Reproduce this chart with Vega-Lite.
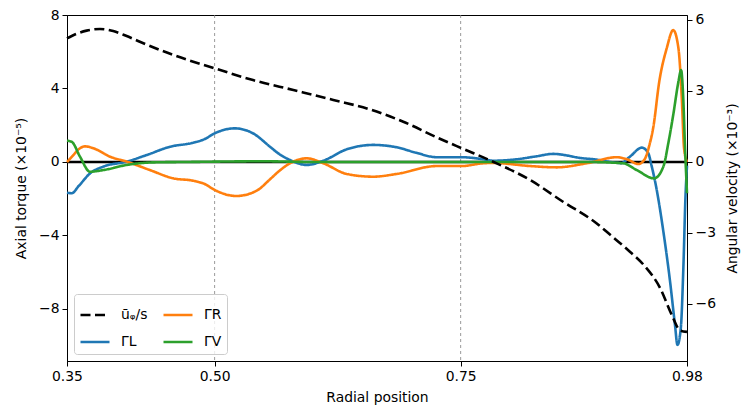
{
  "$schema": "https://vega.github.io/schema/vega-lite/v6.json",
  "width": 620,
  "height": 346,
  "autosize": {"type": "none"},
  "padding": {"left": 67, "top": 15, "right": 67, "bottom": 53},
  "config": {
    "font": "DejaVu Sans",
    "view": {"stroke": "black", "strokeWidth": 1},
    "axis": {"grid": false, "domainColor": "black", "tickColor": "black", "labelColor": "black", "titleColor": "black", "labelFontSize": 13.9, "titleFontSize": 13.9, "titleFontWeight": "normal", "tickSize": 5, "labelPadding": 3, "labelFlush": false, "labelFont": "DejaVu Sans", "titleFont": "DejaVu Sans"},
    "legend": {"labelFontSize": 13.9, "labelFont": "DejaVu Sans", "labelColor": "black"}
  },
  "datasets": {
    "torque": [
      {"x": 0.35, "series": "ΓL", "v": -1.67}, {"x": 0.3548, "series": "ΓL", "v": -1.7}, {"x": 0.362, "series": "ΓL", "v": -1.3}, {"x": 0.3734, "series": "ΓL", "v": -0.62}, {"x": 0.3869, "series": "ΓL", "v": -0.25}, {"x": 0.4107, "series": "ΓL", "v": 0.02}, {"x": 0.431, "series": "ΓL", "v": 0.38}, {"x": 0.4547, "series": "ΓL", "v": 0.83}, {"x": 0.4783, "series": "ΓL", "v": 1.05}, {"x": 0.49, "series": "ΓL", "v": 1.25}, {"x": 0.5, "series": "ΓL", "v": 1.56}, {"x": 0.5207, "series": "ΓL", "v": 1.83}, {"x": 0.539, "series": "ΓL", "v": 1.56}, {"x": 0.5563, "series": "ΓL", "v": 0.83}, {"x": 0.5647, "series": "ΓL", "v": 0.47}, {"x": 0.5766, "series": "ΓL", "v": 0.11}, {"x": 0.5936, "series": "ΓL", "v": -0.16}, {"x": 0.6105, "series": "ΓL", "v": 0.07}, {"x": 0.6342, "series": "ΓL", "v": 0.69}, {"x": 0.6613, "series": "ΓL", "v": 0.93}, {"x": 0.685, "series": "ΓL", "v": 0.8}, {"x": 0.705, "series": "ΓL", "v": 0.5}, {"x": 0.7257, "series": "ΓL", "v": 0.26}, {"x": 0.751, "series": "ΓL", "v": 0.26}, {"x": 0.773, "series": "ΓL", "v": 0.15}, {"x": 0.783, "series": "ΓL", "v": 0.07}, {"x": 0.807, "series": "ΓL", "v": 0.15}, {"x": 0.826, "series": "ΓL", "v": 0.3}, {"x": 0.844, "series": "ΓL", "v": 0.44}, {"x": 0.8747, "series": "ΓL", "v": 0.2}, {"x": 0.885, "series": "ΓL", "v": 0.15}, {"x": 0.9086, "series": "ΓL", "v": -0.04}, {"x": 0.913, "series": "ΓL", "v": -0.06}, {"x": 0.922, "series": "ΓL", "v": 0.29}, {"x": 0.934, "series": "ΓL", "v": 0.78}, {"x": 0.9405, "series": "ΓL", "v": 0.5}, {"x": 0.944, "series": "ΓL", "v": -0.2}, {"x": 0.949, "series": "ΓL", "v": -1.45}, {"x": 0.956, "series": "ΓL", "v": -3.79}, {"x": 0.9628, "series": "ΓL", "v": -6.51}, {"x": 0.9678, "series": "ΓL", "v": -8.87}, {"x": 0.9703, "series": "ΓL", "v": -9.95}, {"x": 0.9737, "series": "ΓL", "v": -9.05}, {"x": 0.9764, "series": "ΓL", "v": -5.6}, {"x": 0.9784, "series": "ΓL", "v": -1.96}, {"x": 0.98, "series": "ΓL", "v": -0.2},
      {"x": 0.35, "series": "ΓR", "v": 0.0}, {"x": 0.356, "series": "ΓR", "v": 0.35}, {"x": 0.3625, "series": "ΓR", "v": 0.72}, {"x": 0.3683, "series": "ΓR", "v": 0.85}, {"x": 0.3767, "series": "ΓR", "v": 0.75}, {"x": 0.3937, "series": "ΓR", "v": 0.29}, {"x": 0.4107, "series": "ΓR", "v": 0.02}, {"x": 0.4343, "series": "ΓR", "v": -0.44}, {"x": 0.458, "series": "ΓR", "v": -0.89}, {"x": 0.4783, "series": "ΓR", "v": -1.02}, {"x": 0.49, "series": "ΓR", "v": -1.2}, {"x": 0.5, "series": "ΓR", "v": -1.52}, {"x": 0.522, "series": "ΓR", "v": -1.85}, {"x": 0.5428, "series": "ΓR", "v": -1.56}, {"x": 0.5563, "series": "ΓR", "v": -0.94}, {"x": 0.5647, "series": "ΓR", "v": -0.53}, {"x": 0.5766, "series": "ΓR", "v": -0.07}, {"x": 0.5936, "series": "ΓR", "v": 0.2}, {"x": 0.6105, "series": "ΓR", "v": -0.07}, {"x": 0.6342, "series": "ΓR", "v": -0.65}, {"x": 0.6613, "series": "ΓR", "v": -0.8}, {"x": 0.685, "series": "ΓR", "v": -0.65}, {"x": 0.7257, "series": "ΓR", "v": -0.22}, {"x": 0.751, "series": "ΓR", "v": -0.22}, {"x": 0.773, "series": "ΓR", "v": -0.07}, {"x": 0.783, "series": "ΓR", "v": -0.05}, {"x": 0.8205, "series": "ΓR", "v": -0.22}, {"x": 0.8475, "series": "ΓR", "v": -0.29}, {"x": 0.878, "series": "ΓR", "v": -0.07}, {"x": 0.9086, "series": "ΓR", "v": 0.26}, {"x": 0.919, "series": "ΓR", "v": 0.15}, {"x": 0.9305, "series": "ΓR", "v": -0.11}, {"x": 0.937, "series": "ΓR", "v": 0.15}, {"x": 0.9417, "series": "ΓR", "v": 0.9}, {"x": 0.9458, "series": "ΓR", "v": 1.9}, {"x": 0.9518, "series": "ΓR", "v": 4.37}, {"x": 0.9594, "series": "ΓR", "v": 6.19}, {"x": 0.966, "series": "ΓR", "v": 7.18}, {"x": 0.9713, "series": "ΓR", "v": 6.19}, {"x": 0.9747, "series": "ΓR", "v": 3.47}, {"x": 0.977, "series": "ΓR", "v": 0.75}, {"x": 0.98, "series": "ΓR", "v": 0.0},
      {"x": 0.35, "series": "ΓV", "v": 1.16}, {"x": 0.3548, "series": "ΓV", "v": 1.1}, {"x": 0.3632, "series": "ΓV", "v": 0.29}, {"x": 0.3734, "series": "ΓV", "v": -0.53}, {"x": 0.3869, "series": "ΓV", "v": -0.44}, {"x": 0.4107, "series": "ΓV", "v": -0.16}, {"x": 0.4377, "series": "ΓV", "v": -0.02}, {"x": 0.47, "series": "ΓV", "v": 0.0}, {"x": 0.55, "series": "ΓV", "v": 0.04}, {"x": 0.6, "series": "ΓV", "v": 0.0}, {"x": 0.7, "series": "ΓV", "v": 0.0}, {"x": 0.8, "series": "ΓV", "v": 0.0}, {"x": 0.88, "series": "ΓV", "v": 0.0}, {"x": 0.915, "series": "ΓV", "v": -0.07}, {"x": 0.929, "series": "ΓV", "v": -0.44}, {"x": 0.9465, "series": "ΓV", "v": -0.89}, {"x": 0.956, "series": "ΓV", "v": -0.25}, {"x": 0.961, "series": "ΓV", "v": 1.02}, {"x": 0.966, "series": "ΓV", "v": 2.56}, {"x": 0.9713, "series": "ΓV", "v": 4.37}, {"x": 0.974, "series": "ΓV", "v": 5.0}, {"x": 0.9762, "series": "ΓV", "v": 3.47}, {"x": 0.978, "series": "ΓV", "v": 0.76}, {"x": 0.98, "series": "ΓV", "v": -1.7}
    ],
    "omega": [
      {"x": 0.35, "series": "ūᵩ/s", "w": 5.22}, {"x": 0.36, "series": "ūᵩ/s", "w": 5.42}, {"x": 0.37, "series": "ūᵩ/s", "w": 5.55}, {"x": 0.3835, "series": "ūᵩ/s", "w": 5.62}, {"x": 0.397, "series": "ūᵩ/s", "w": 5.53}, {"x": 0.41, "series": "ūᵩ/s", "w": 5.33}, {"x": 0.424, "series": "ūᵩ/s", "w": 5.08}, {"x": 0.458, "series": "ūᵩ/s", "w": 4.52}, {"x": 0.5, "series": "ūᵩ/s", "w": 3.96}, {"x": 0.539, "series": "ūᵩ/s", "w": 3.46}, {"x": 0.58, "series": "ūᵩ/s", "w": 3.04}, {"x": 0.6206, "series": "ūᵩ/s", "w": 2.62}, {"x": 0.658, "series": "ūᵩ/s", "w": 2.22}, {"x": 0.6917, "series": "ūᵩ/s", "w": 1.7}, {"x": 0.7257, "series": "ūᵩ/s", "w": 1.04}, {"x": 0.751, "series": "ūᵩ/s", "w": 0.58}, {"x": 0.783, "series": "ūᵩ/s", "w": 0.01}, {"x": 0.8205, "series": "ūᵩ/s", "w": -0.76}, {"x": 0.854, "series": "ūᵩ/s", "w": -1.68}, {"x": 0.888, "series": "ūᵩ/s", "w": -2.59}, {"x": 0.902, "series": "ūᵩ/s", "w": -3.08}, {"x": 0.92, "series": "ūᵩ/s", "w": -3.72}, {"x": 0.936, "series": "ūᵩ/s", "w": -4.35}, {"x": 0.9526, "series": "ūᵩ/s", "w": -5.32}, {"x": 0.9645, "series": "ūᵩ/s", "w": -6.46}, {"x": 0.973, "series": "ūᵩ/s", "w": -7.12}, {"x": 0.98, "series": "ūᵩ/s", "w": -7.18}
    ],
    "zero": [{"v": 0}],
    "marks": [{"x": 0.5}, {"x": 0.75}]
  },
  "layer": [
    {
      "layer": [
        {
          "data": {"name": "marks"},
          "mark": {"type": "rule", "color": "#808080", "strokeWidth": 0.8, "strokeDash": [3, 3]},
          "encoding": {"x": {"field": "x", "type": "quantitative"}}
        },
        {
          "data": {"name": "zero"},
          "mark": {"type": "rule", "color": "black", "strokeWidth": 2.5},
          "encoding": {"y": {"field": "v", "type": "quantitative"}}
        },
        {
          "data": {"name": "torque"},
          "mark": {"type": "line", "strokeWidth": 2.6, "interpolate": "monotone"},
          "encoding": {
            "x": {"field": "x", "type": "quantitative", "title": "Radial position", "scale": {"domain": [0.35, 0.98], "nice": false, "zero": false}, "axis": {"values": [0.35, 0.5, 0.75, 0.98], "format": ".2f", "titlePadding": 8}},
            "y": {"field": "v", "type": "quantitative", "title": "Axial torque (×10⁻⁵)", "scale": {"domain": [-10.83, 8], "nice": false, "zero": false}, "axis": {"orient": "left", "values": [-8, -4, 0, 4, 8], "format": "d", "titlePadding": 10}},
            "color": {"field": "series", "type": "nominal", "title": null, "scale": {"domain": ["ūᵩ/s", "ΓL", "ΓR", "ΓV"], "range": ["black", "#1f77b4", "#ff7f0e", "#2ca02c"]}},
            "strokeDash": {"field": "series", "type": "nominal", "title": null, "scale": {"domain": ["ūᵩ/s", "ΓL", "ΓR", "ΓV"], "range": [[10, 4.5], [1, 0], [1, 0], [1, 0]]}}
          }
        }
      ]
    },
    {
      "data": {"name": "omega"},
      "mark": {"type": "line", "strokeWidth": 2.6, "interpolate": "monotone"},
      "encoding": {
        "x": {"field": "x", "type": "quantitative"},
        "y": {"field": "w", "type": "quantitative", "title": "Angular velocity (×10⁻³)", "scale": {"domain": [-8.41, 6.21], "nice": false, "zero": false}, "axis": {"orient": "right", "values": [-6, -3, 0, 3, 6], "format": "d", "titleAngle": 270, "titleBaseline": "top", "titlePadding": 10}},
        "color": {"field": "series", "type": "nominal", "title": null, "scale": {"domain": ["ūᵩ/s", "ΓL", "ΓR", "ΓV"], "range": ["black", "#1f77b4", "#ff7f0e", "#2ca02c"]}, "legend": {"values": ["ūᵩ/s", "ΓL", "ΓR", "ΓV"], "orient": "bottom-left", "offset": 7, "columns": 2, "symbolType": "stroke", "symbolSize": 841, "symbolStrokeWidth": 2.6, "fillColor": "rgba(255,255,255,0.8)", "strokeColor": "#cccccc", "cornerRadius": 3, "padding": 5, "columnPadding": 10, "rowPadding": 4, "labelOffset": 10}},
        "strokeDash": {"field": "series", "type": "nominal", "title": null, "scale": {"domain": ["ūᵩ/s", "ΓL", "ΓR", "ΓV"], "range": [[10, 4.5], [1, 0], [1, 0], [1, 0]]}}
      }
    }
  ],
  "resolve": {"scale": {"y": "independent"}}
}
